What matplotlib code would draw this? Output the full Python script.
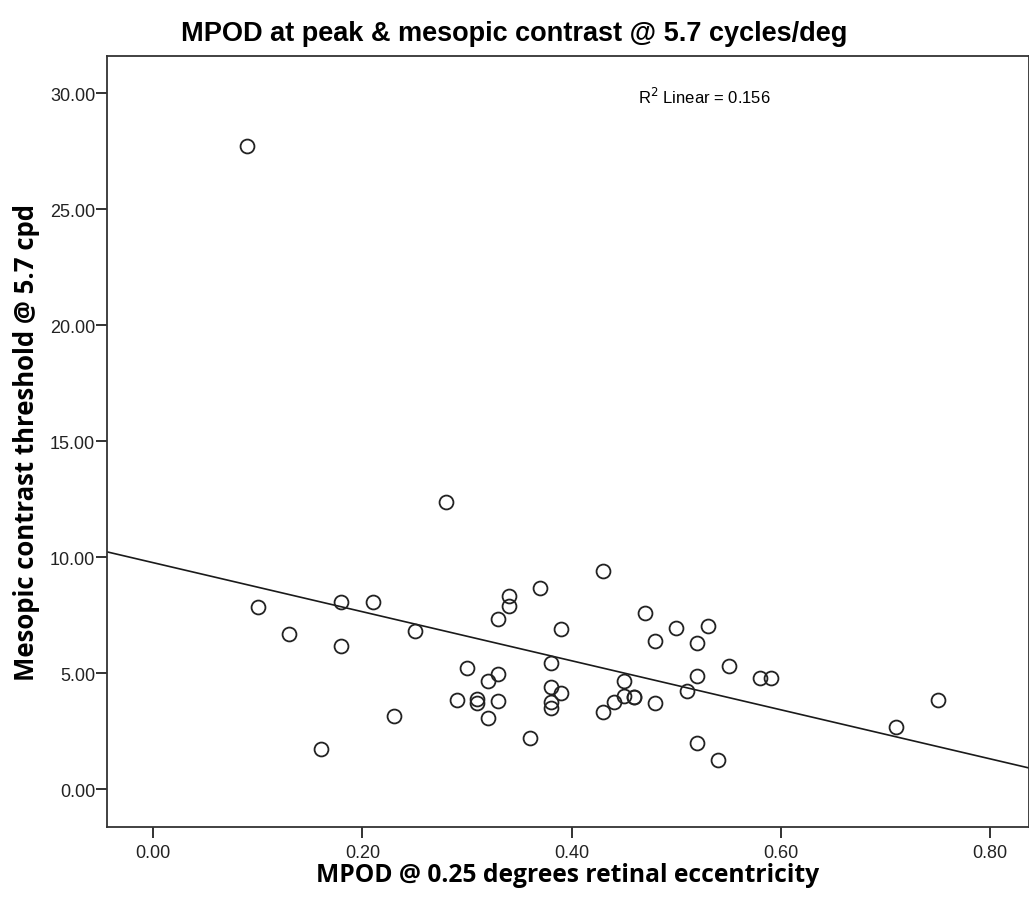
import matplotlib.pyplot as plt
import numpy as np

plt.rcParams['font.family'] = ['Liberation Sans', 'DejaVu Sans']

# MPOD @ 0.25 deg vs mesopic contrast threshold @ 5.7 cpd
mpod = [0.09, 0.10, 0.13, 0.16, 0.18, 0.18, 0.21, 0.23, 0.25, 0.28,
        0.29, 0.30, 0.31, 0.31, 0.32, 0.32, 0.33, 0.33, 0.33, 0.34,
        0.34, 0.36, 0.37, 0.38, 0.38, 0.38, 0.38, 0.39, 0.39, 0.43,
        0.43, 0.44, 0.45, 0.45, 0.46, 0.46, 0.47, 0.48, 0.48, 0.50,
        0.51, 0.52, 0.52, 0.52, 0.53, 0.54, 0.55, 0.58, 0.59, 0.71,
        0.75]
threshold = [27.70, 7.84, 6.69, 1.73, 8.06, 6.15, 8.08, 3.14, 6.83, 12.39,
             3.85, 5.21, 3.90, 3.70, 4.67, 3.06, 4.97, 3.79, 7.34, 8.31,
             7.91, 2.19, 8.68, 5.44, 4.39, 3.77, 3.48, 6.88, 4.14, 9.42,
             3.34, 3.77, 4.67, 3.99, 3.95, 3.95, 7.60, 6.40, 3.73, 6.95,
             4.21, 6.30, 4.89, 1.99, 7.05, 1.26, 5.32, 4.77, 4.77, 2.66,
             3.82]

x_ticks = [0.0, 0.2, 0.4, 0.6, 0.8]
y_ticks = [0, 5, 10, 15, 20, 25, 30]

x = np.array(mpod)
y = np.array(threshold)
slope, intercept = np.polyfit(x, y, 1)

fig = plt.figure(figsize=(10.29, 9.12), dpi=100)
ax = fig.add_axes([0.104, 0.092, 0.896, 0.8455])

xmin, xmax = -0.044, 0.837
ax.set_xlim(xmin, xmax)
ax.set_ylim(-1.64, 31.6)

xs = np.array([xmin, xmax])
ax.plot(xs, intercept + slope * xs, color='#1a1a1a', lw=1.2, zorder=2)

ax.plot(x, y, 'o', markersize=10, markerfacecolor='none',
        markeredgecolor='#222222', markeredgewidth=1.3, zorder=3)

ax.set_xticks(x_ticks)
ax.set_xticklabels([f"{v:.2f}" for v in x_ticks])
ax.set_yticks(y_ticks)
ax.set_yticklabels([f"{v:.2f}" for v in y_ticks])
ax.tick_params(direction='out', length=8, width=1.3, labelsize=13,
               colors='#222222')
ax.tick_params(axis='y', pad=0.5)
ax.tick_params(axis='x', pad=4)

for s in ax.spines.values():
    s.set_linewidth(1.3)
    s.set_color('#333333')

label_font = ['Open Sans', 'DejaVu Sans']
ax.set_xlabel("MPOD @ 0.25 degrees retinal eccentricity", family=label_font,
              fontsize=17.7, fontweight='bold', labelpad=1)
ax.set_ylabel("Mesopic contrast threshold @ 5.7 cpd", family=label_font,
              fontsize=18.5, fontweight='bold', labelpad=7)
fig.suptitle("MPOD at peak & mesopic contrast @ 5.7 cycles/deg",
             fontsize=19.5, fontweight='bold', x=0.5, y=0.977)

ax.text(0.576, 0.948, r"R$^2$ Linear = 0.156", transform=ax.transAxes,
        fontsize=12, va='center', ha='left')

fig.savefig("out.png", dpi=100)
